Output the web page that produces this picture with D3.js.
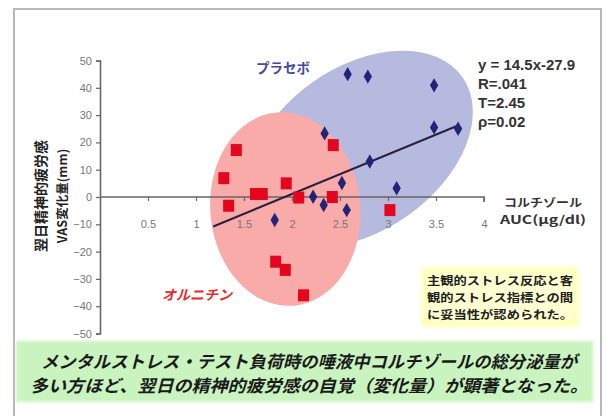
<!DOCTYPE html>
<html lang="ja">
<head>
<meta charset="utf-8">
<script src="https://cdn.jsdelivr.net/npm/d3@7"></script>
<style>
  html, body { margin: 0; padding: 0; background: #fff; }
  svg { display: block; }
  .jp { font-family: "Noto Sans CJK JP", "Noto Sans", sans-serif; font-weight: 700; }
  .num { font-family: "Liberation Sans", Arial, sans-serif; }
</style>
</head>
<body>
<svg id="chart" width="606" height="416"></svg>
<script>
// Salivary cortisol AUC vs. change in next-day mental fatigue (VAS)
const placeboX = [2.58, 2.79, 3.48, 3.48, 3.73, 2.34, 2.81, 3.09, 2.52, 2.22, 2.33, 2.57, 1.82];
const placeboY = [45.0, 44.1, 40.9, 25.5, 25.0, 23.3, 13.0, 3.2, 5.1, 0.1, -2.9, -4.8, -8.4];

const ornithineX = [1.42, 1.29, 1.34, 1.62, 1.69, 1.94, 2.07, 2.43, 2.42, 3.02, 1.83, 1.93, 2.12];
const ornithineY = [17.2, 6.9, -3.2, 1.1, 1.1, 5.0, -0.2, 19.0, 0.0, -4.8, -23.7, -26.7, -36.0];

const xTicks = [0.5, 1, 1.5, 2, 2.5, 3, 3.5, 4];
const yTicks = [-50, -40, -30, -20, -10, 0, 10, 20, 30, 40, 50];

// regression line  y = 14.5x - 27.9  over the observed x range
const slope = 14.5, intercept = -27.9;
const fitRange = [1.18, 3.73];

const statLines = ["y = 14.5x-27.9", "R=.041", "T=2.45", "\u03C1=0.02"];
const yTitle = ["翌日精神的疲労感", "VAS変化量(mm)"];
const xTitle = ["コルチゾール", "AUC(\u03BCg/dl)"];
const noteLines = ["主観的ストレス反応と客", "観的ストレス指標との間", "に妥当性が認められた。"];
const captionLines = [
  "メンタルストレス・テスト負荷時の唾液中コルチゾールの総分泌量が",
  "多い方ほど、翌日の精神的疲労感の自覚（変化量）が顕著となった。"
];

// group ellipses (centre in data units)
const placeboZone = { cx: 2.71, cy: 17.6 };
const ornithineZone = { cx: 1.93, cy: -4.4 };

const svg = d3.select("#chart");

const x = d3.scaleLinear().domain([0, 4]).range([100, 484]);
const y = d3.scaleLinear().domain([-50, 50]).range([333.5, 60.5]);

// outer frame
svg.append("rect")
  .attr("x", 14).attr("y", 9).attr("width", 587).attr("height", 420)
  .attr("fill", "#fff").attr("stroke", "#b8b8b8").attr("stroke-width", 2);

const defs = svg.append("defs");
defs.append("filter").attr("id", "soft").attr("x", "-10%").attr("y", "-30%").attr("width", "120%").attr("height", "160%")
  .append("feGaussianBlur").attr("stdDeviation", 2.5);
defs.append("filter").attr("id", "softer").attr("x", "-5%").attr("y", "-20%").attr("width", "110%").attr("height", "140%")
  .append("feGaussianBlur").attr("stdDeviation", 1.5);

// ellipse shapes
const blueR = [125, 82];
const redR = [75, 97];
const blueT = `translate(${x(placeboZone.cx)},${y(placeboZone.cy)}) rotate(-35)`;
const redT = `translate(${x(ornithineZone.cx)},${y(ornithineZone.cy)}) rotate(-5)`;

defs.append("clipPath").attr("id", "blueClip")
  .append("ellipse").attr("transform", blueT).attr("rx", blueR[0]).attr("ry", blueR[1]);

svg.append("ellipse").attr("transform", blueT).attr("rx", blueR[0]).attr("ry", blueR[1])
  .attr("fill", "#b7badf");
svg.append("ellipse").attr("transform", redT).attr("rx", redR[0]).attr("ry", redR[1])
  .attr("fill", "#f8aba8");
svg.append("ellipse").attr("transform", redT).attr("rx", redR[0]).attr("ry", redR[1])
  .attr("clip-path", "url(#blueClip)")
  .attr("fill", "#b98aa6");

// axes
const xAxis = d3.axisBottom(x).tickValues(xTicks).tickSize(4).tickPadding(19)
  .tickFormat(d => String(d));
const gx = svg.append("g").attr("transform", `translate(0,${y(0)})`).call(xAxis);
gx.select(".domain").attr("d", `M${x(0)},0H${x(4)}V5`);

const yAxis = d3.axisLeft(y).tickValues(yTicks).tickSize(4).tickPadding(4);
const gy = svg.append("g").attr("transform", `translate(${x(0)},0)`).call(yAxis);

[gx, gy].forEach(g => {
  g.select(".domain").attr("stroke", "#666").attr("stroke-width", 1.6);
  g.selectAll(".tick line").attr("stroke", "#666").attr("stroke-width", 1.2);
  g.selectAll(".tick text").attr("class", "num").attr("fill", "#777")
    .style("font-size", "11px");
});

// regression line
svg.append("line")
  .attr("x1", x(fitRange[0])).attr("y1", y(slope * fitRange[0] + intercept))
  .attr("x2", x(fitRange[1])).attr("y2", y(slope * fitRange[1] + intercept))
  .attr("stroke", "#2a1f3d").attr("stroke-width", 2);

// ornithine: red squares
const ornithine = ornithineX.map((v, i) => ({ x: v, y: ornithineY[i] }));
svg.append("g").selectAll("rect").data(ornithine).join("rect")
  .attr("x", d => x(d.x) - 5.5).attr("y", d => y(d.y) - 6)
  .attr("width", 11).attr("height", 12)
  .attr("fill", "#e3061c");

// placebo: navy diamonds
const placebo = placeboX.map((v, i) => ({ x: v, y: placeboY[i] }));
svg.append("g").selectAll("path").data(placebo).join("path")
  .attr("transform", d => `translate(${x(d.x)},${y(d.y)})`)
  .attr("d", d3.symbol(d3.symbolDiamond, 60))
  .attr("fill", "#23237a");

// group labels
svg.append("text").attr("class", "jp").attr("x", 256).attr("y", 73)
  .attr("fill", "#4848a4").style("font-size", "13.5px").text("プラセボ");
svg.append("text").attr("class", "jp").attr("x", 162).attr("y", 300)
  .attr("fill", "#e82a2a").style("font-size", "14px").style("font-style", "italic").text("オルニチン");

// statistics
svg.append("g").selectAll("text").data(statLines).join("text")
  .attr("class", "num").attr("x", 478).attr("y", (d, i) => 70 + i * 19)
  .attr("fill", "#333").style("font-size", "15px").style("font-weight", 700)
  .text(d => d);

// x-axis title
svg.append("g").selectAll("text").data(xTitle).join("text")
  .attr("class", "jp").attr("x", 543).attr("y", (d, i) => 207 + i * 17)
  .attr("text-anchor", "middle").attr("fill", "#333").style("font-size", "11.5px")
  .attr("textLength", (d, i) => i === 0 ? 78 : 86).attr("lengthAdjust", "spacingAndGlyphs")
  .text(d => d);

// y-axis title (rotated, two lines)
svg.append("g").selectAll("text").data(yTitle).join("text")
  .attr("class", "jp")
  .attr("transform", (d, i) => `translate(${40 + i * 21},196) rotate(-90)`)
  .attr("text-anchor", "middle").attr("dominant-baseline", "central")
  .attr("fill", "#222").style("font-size", (d, i) => i === 0 ? "14px" : "12.5px")
  .text(d => d);

// note box
svg.append("rect").attr("x", 422).attr("y", 268).attr("width", 156).attr("height", 58)
  .attr("fill", "#ffffa6").attr("filter", "url(#soft)");
svg.append("rect").attr("x", 426).attr("y", 272).attr("width", 148).attr("height", 50)
  .attr("fill", "#fffff0").attr("filter", "url(#soft)").attr("opacity", 0.6);
svg.append("g").selectAll("text").data(noteLines).join("text")
  .attr("class", "jp").attr("x", 500).attr("y", (d, i) => 285 + i * 17)
  .attr("text-anchor", "middle").attr("fill", "#222").style("font-size", "11.5px")
  .attr("textLength", 146).attr("lengthAdjust", "spacingAndGlyphs")
  .text(d => d);

// caption band
svg.append("rect").attr("x", 16).attr("y", 341).attr("width", 577).attr("height", 61)
  .attr("fill", "#c9f4bf").attr("filter", "url(#softer)");
svg.append("g").selectAll("text").data(captionLines).join("text")
  .attr("class", "jp").attr("x", 309).attr("y", (d, i) => 368 + i * 24)
  .attr("text-anchor", "middle").attr("fill", "#1a1a1a").style("font-size", "17px")
  .style("font-style", "italic")
  .attr("textLength", (d, i) => i === 0 ? 536 : 558).attr("lengthAdjust", "spacingAndGlyphs")
  .text(d => d);
</script>
</body>
</html>
